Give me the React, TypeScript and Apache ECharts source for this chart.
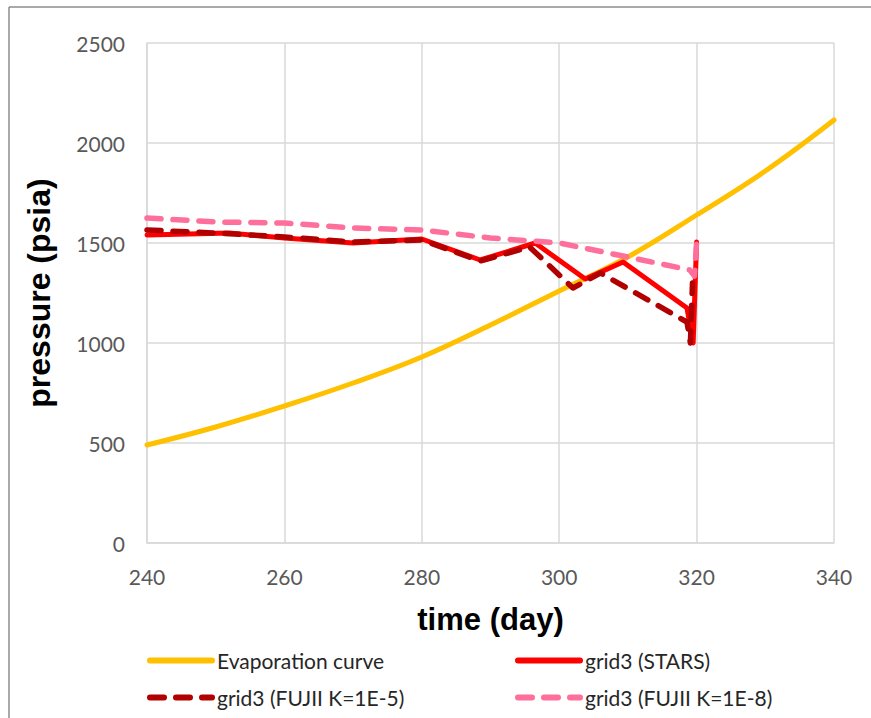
import React, { useEffect, useRef } from "react";
import * as echarts from "echarts";

const evapDays = [240, 250, 260, 270, 280, 290, 300, 310, 320, 330, 340];
const evapP = [490, 580, 685, 800, 930, 1090, 1260, 1430, 1640, 1860, 2115];

const starsDays = [240, 252, 260, 270, 280, 288.5, 296.5, 303.8, 309.3, 318.6, 319.5, 320];
const starsP = [1540, 1550, 1525, 1500, 1520, 1415, 1500, 1320, 1405, 1175, 1000, 1505];

const fujii5Days = [240, 250, 260, 270, 280, 288.5, 295.7, 302, 306, 318.6, 319.1, 319.4];
const fujii5P = [1565, 1550, 1530, 1505, 1515, 1410, 1480, 1275, 1350, 1105, 1000, 1300];

const fujii8Days = [240, 250, 260, 270, 280, 290, 300, 310, 319, 319.7, 320];
const fujii8P = [1625, 1605, 1600, 1575, 1565, 1525, 1500, 1430, 1365, 1335, 1505];

const xTicks = [240, 260, 280, 300, 320, 340];
const yTicks = [0, 500, 1000, 1500, 2000, 2500];

const seriesNames = [
  "Evaporation curve",
  "grid3 (STARS)",
  "grid3 (FUJII K=1E-5)",
  "grid3 (FUJII K=1E-8)",
];

const pair = (xs: number[], ys: number[]) => xs.map((x, i) => [x, ys[i]]);

export default function App() {
  const ref = useRef<HTMLDivElement>(null);
  useEffect(() => {
    if (!ref.current) return;
    const chart = echarts.init(ref.current, undefined, { renderer: "svg" });
    const legendText = {
      fontFamily: "Lato",
      fontSize: 21,
      color: "#262626",
    };
    const legendCommon = {
      top: 645,
      orient: "vertical",
      itemGap: 16,
      itemWidth: 62,
      itemHeight: 24,
      itemStyle: { opacity: 0, borderWidth: 0 },
      lineStyle: { width: 6, cap: "round" },
      textStyle: legendText,
    };
    chart.setOption({
      animation: false,
      backgroundColor: "#ffffff",
      graphic: [
        {
          type: "line",
          shape: { x1: 9, y1: 7, x2: 871, y2: 7 },
          style: { stroke: "#8c8c8c", lineWidth: 1.5 },
        },
        {
          type: "line",
          shape: { x1: 9, y1: 7, x2: 9, y2: 718 },
          style: { stroke: "#8c8c8c", lineWidth: 1.5 },
        },
      ],
      grid: { left: 147, right: 37, top: 43, bottom: 175 },
      xAxis: {
        type: "value",
        min: xTicks[0],
        max: xTicks[xTicks.length - 1],
        interval: 20,
        name: "time (day)",
        nameLocation: "middle",
        nameGap: 61,
        nameTextStyle: {
          fontFamily: "Liberation Sans",
          fontWeight: "bold",
          fontSize: 31,
          color: "#000",
        },
        axisLine: { show: true, lineStyle: { color: "#d9d9d9", width: 1.5 } },
        axisTick: { show: false },
        splitLine: { show: true, lineStyle: { color: "#d9d9d9", width: 1.5 } },
        axisLabel: {
          fontFamily: "Lato",
          fontSize: 21,
          color: "#595959",
          margin: 23,
          formatter: (v: number) => String(v),
        },
      },
      yAxis: {
        type: "value",
        min: yTicks[0],
        max: yTicks[yTicks.length - 1],
        interval: 500,
        name: "pressure (psia)",
        nameLocation: "middle",
        nameGap: 92,
        nameTextStyle: {
          fontFamily: "Liberation Sans",
          fontWeight: "bold",
          fontSize: 32,
          color: "#000",
        },
        axisLine: { show: true, lineStyle: { color: "#d9d9d9", width: 1.5 } },
        axisTick: { show: false },
        splitLine: { show: true, lineStyle: { color: "#d9d9d9", width: 1.5 } },
        axisLabel: {
          fontFamily: "Lato",
          fontSize: 21,
          color: "#595959",
          margin: 22,
          formatter: (v: number) => String(v),
        },
      },
      legend: [
        { ...legendCommon, left: 142, data: [seriesNames[0], seriesNames[2]] },
        { ...legendCommon, left: 510, data: [seriesNames[1], seriesNames[3]] },
      ],
      series: [
        {
          name: seriesNames[0],
          type: "line",
          data: pair(evapDays, evapP),
          smooth: 0.4,
          symbol: "none",
          lineStyle: { color: "#ffc000", width: 5, cap: "round" },
          itemStyle: { color: "#ffc000" },
        },
        {
          name: seriesNames[1],
          type: "line",
          data: pair(starsDays, starsP),
          symbol: "none",
          lineStyle: { color: "#ff0000", width: 5, cap: "round", join: "round" },
          itemStyle: { color: "#ff0000" },
        },
        {
          name: seriesNames[2],
          type: "line",
          data: pair(fujii5Days, fujii5P),
          symbol: "none",
          lineStyle: {
            color: "#b00000",
            width: 5.5,
            type: [14, 12],
            cap: "round",
            join: "round",
          },
          itemStyle: { color: "#b00000" },
        },
        {
          name: seriesNames[3],
          type: "line",
          data: pair(fujii8Days, fujii8P),
          symbol: "none",
          lineStyle: {
            color: "#ff6f9c",
            width: 5.5,
            type: [14, 12],
            cap: "round",
            join: "round",
          },
          itemStyle: { color: "#ff6f9c" },
        },
      ],
    });
    return () => chart.dispose();
  }, []);
  return (
    <div
      ref={ref}
      style={{ position: "absolute", left: 0, top: 0, width: 871, height: 718 }}
    />
  );
}
